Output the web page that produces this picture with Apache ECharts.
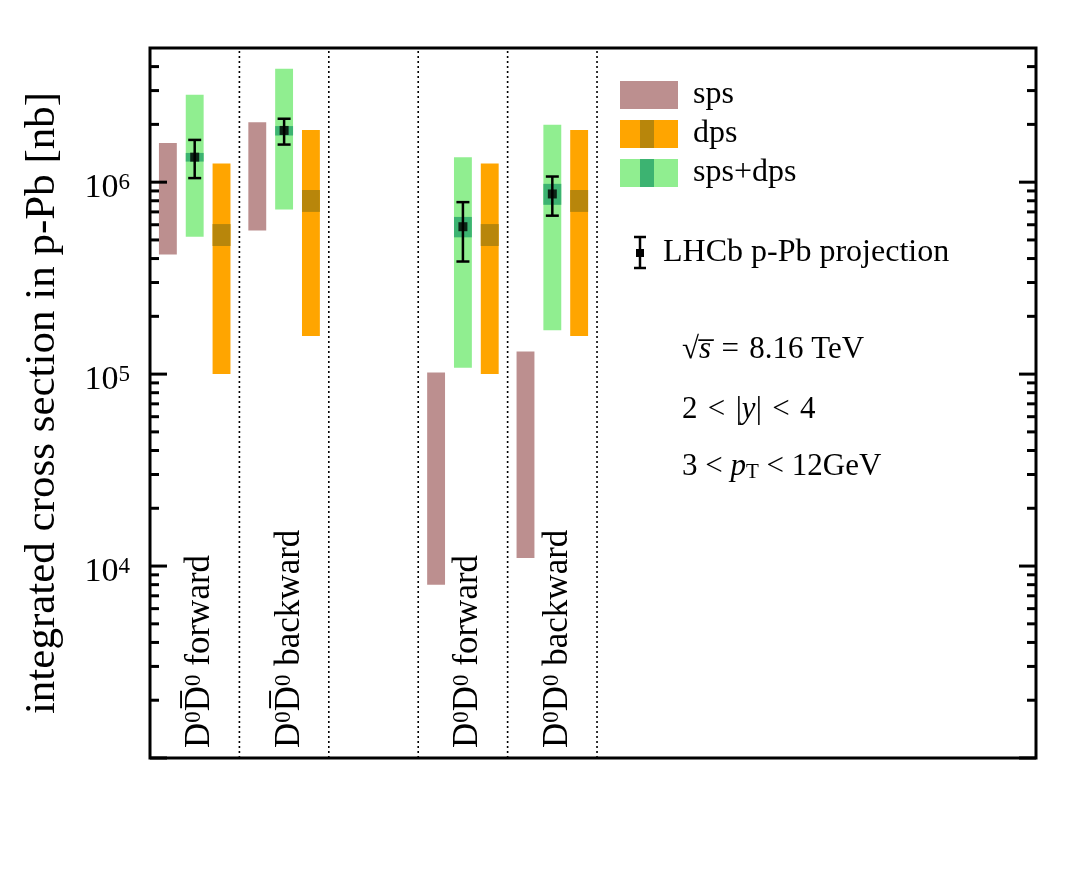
<!DOCTYPE html>
<html>
<head>
<meta charset="utf-8">
<title>integrated cross section in p-Pb</title>
<script src="https://cdn.jsdelivr.net/npm/echarts@6/dist/echarts.min.js"></script>
<style>
  html, body { margin: 0; padding: 0; background: #fff; }
  #main { width: 1068px; height: 891px; }
</style>
</head>
<body>
<div id="main"></div>
<script>
// --- data (values in nb) ---
const groupPos = [0, 1, 3, 4];
const groupLabels = [
  'D{s|0}D\u0305{s|0} forward',
  'D{s|0}D\u0305{s|0} backward',
  'D{s|0}D{s|0} forward',
  'D{s|0}D{s|0} backward'
];
const spsLow = [4.2e5, 5.6e5, 8.0e3, 1.1e4];
const spsHigh = [1.6e6, 2.05e6, 1.02e5, 1.31e5];
const dpsLow = [1.0e5, 1.58e5, 1.0e5, 1.58e5];
const dpsHigh = [1.25e6, 1.87e6, 1.25e6, 1.87e6];
const dpsBandLow = [4.65e5, 7.0e5, 4.65e5, 7.0e5];
const dpsBandHigh = [6.05e5, 9.1e5, 6.05e5, 9.1e5];
const totLow = [5.2e5, 7.2e5, 1.08e5, 1.69e5];
const totHigh = [2.85e6, 3.9e6, 1.35e6, 1.99e6];
const totBandLow = [1.28e6, 1.75e6, 5.16e5, 7.62e5];
const totBandHigh = [1.42e6, 1.96e6, 6.59e5, 9.8e5];
const lhcbVal = [1.35e6, 1.86e6, 5.86e5, 8.68e5];
const lhcbLow = [1.05e6, 1.57e6, 3.86e5, 6.69e5];
const lhcbHigh = [1.66e6, 2.14e6, 7.87e5, 1.07e6];
const dividerPos = [1, 2, 3, 4, 5];
const decades = [3, 4, 5, 6];
const minorMult = [2, 3, 4, 5, 6, 7, 8, 9];
const labelExps = [4, 5, 6];

const FONT = "'Liberation Serif', 'DejaVu Serif', serif";
const yMin = 1e3, yMax = 5e6, xMin = 0, xMax = 9.91;
const barW = 0.2;

const C_SPS = '#bc8f8f', C_DPS = '#ffa500', C_DPS_D = '#b8860b', C_TOT = '#90ee90', C_TOT_D = '#3cb371';

// tick marks on both sides of the frame
let ticks = [];
decades.forEach(d => {
  ticks.push([0, Math.pow(10, d), 1]);
  minorMult.forEach(m => {
    const v = m * Math.pow(10, d);
    if (v < yMax) ticks.push([0, v, 0]);
  });
});

const chart = echarts.init(document.getElementById('main'));

const rectBetween = (x, lo, hi, api, color) => {
  const p1 = api.coord([x - barW / 2, hi]);
  const p2 = api.coord([x + barW / 2, lo]);
  return {type: 'rect', shape: {x: p1[0], y: p1[1], width: p2[0] - p1[0], height: p2[1] - p1[1]}, style: {fill: color}};
};

const bandSeries = (offset, lows, highs, color, bLows, bHighs, bColor) => ({
  type: 'custom',
  data: groupPos.map((p, i) => [p + offset, lows[i], highs[i], bLows ? bLows[i] : 0, bHighs ? bHighs[i] : 0]),
  encode: {x: 0, y: [1, 2]},
  renderItem: (params, api) => {
    const x = api.value(0);
    const kids = [rectBetween(x, api.value(1), api.value(2), api, color)];
    if (bColor) kids.push(rectBetween(x, api.value(3), api.value(4), api, bColor));
    return {type: 'group', children: kids};
  },
  z: 3
});

const txt = (x, y, text, size, rich) => ({
  type: 'text', x: x, y: y,
  style: {text: text, fontFamily: FONT, fontSize: size, fill: '#000', verticalAlign: 'middle', rich: rich || {}}
});
const it = {fontStyle: 'italic', fontFamily: FONT, fontSize: 31, fill: '#000'};

const option = {
  animation: false,
  backgroundColor: '#fff',
  grid: {left: 150, right: 32, top: 48, bottom: 133, show: true, borderColor: '#000', borderWidth: 3, backgroundColor: 'transparent'},
  xAxis: {type: 'value', min: xMin, max: xMax, show: false},
  yAxis: {
    type: 'log', min: yMin, max: yMax, logBase: 10,
    axisLine: {show: false}, axisTick: {show: false}, splitLine: {show: false},
    axisLabel: {
      margin: 20, color: '#000', fontFamily: FONT, fontSize: 34, padding: [12, 0, 0, 0],
      formatter: v => {
        const l = Math.log10(v), e = Math.round(l);
        if (Math.abs(l - e) > 1e-6 || labelExps.indexOf(e) < 0) return '';
        return '10{sup|' + e + '}';
      },
      rich: {sup: {fontSize: 23, fontFamily: FONT, color: '#000', verticalAlign: 'top'}}
    },
    name: 'integrated cross section in p-Pb [nb]',
    nameLocation: 'middle', nameGap: 86,
    nameTextStyle: {fontSize: 43, fontFamily: FONT, color: '#000'}
  },
  series: [
    // dotted separators
    {
      type: 'custom', z: 2,
      data: dividerPos.map(x => [x, yMin]),
      renderItem: (params, api) => {
        const a = api.coord([api.value(0), yMin]), b = api.coord([api.value(0), yMax]);
        return {type: 'line', shape: {x1: a[0], y1: a[1], x2: b[0], y2: b[1]}, style: {stroke: '#000', lineWidth: 1.6, lineDash: [2, 3]}};
      }
    },
    // axis ticks
    {
      type: 'custom', z: 5,
      data: ticks,
      renderItem: (params, api) => {
        const v = api.value(1), len = api.value(2) ? 17 : 9;
        const l = api.coord([xMin, v]), r = api.coord([xMax, v]);
        return {type: 'group', children: [
          {type: 'line', shape: {x1: l[0], y1: l[1], x2: l[0] + len, y2: l[1]}, style: {stroke: '#000', lineWidth: 3}},
          {type: 'line', shape: {x1: r[0], y1: r[1], x2: r[0] - len, y2: r[1]}, style: {stroke: '#000', lineWidth: 3}}
        ]};
      }
    },
    bandSeries(0.2, spsLow, spsHigh, C_SPS),
    bandSeries(0.5, totLow, totHigh, C_TOT, totBandLow, totBandHigh, C_TOT_D),
    bandSeries(0.8, dpsLow, dpsHigh, C_DPS, dpsBandLow, dpsBandHigh, C_DPS_D),
    // LHCb projection error bars
    {
      type: 'custom', z: 6,
      data: groupPos.map((p, i) => [p + 0.5, lhcbLow[i], lhcbHigh[i]]),
      encode: {x: 0, y: [1, 2]},
      renderItem: (params, api) => {
        const lo = api.coord([api.value(0), api.value(1)]), hi = api.coord([api.value(0), api.value(2)]);
        const st = {stroke: '#000', lineWidth: 2.5};
        return {type: 'group', children: [
          {type: 'line', shape: {x1: lo[0], y1: lo[1], x2: hi[0], y2: hi[1]}, style: st},
          {type: 'line', shape: {x1: lo[0] - 6.5, y1: lo[1], x2: lo[0] + 6.5, y2: lo[1]}, style: st},
          {type: 'line', shape: {x1: hi[0] - 6.5, y1: hi[1], x2: hi[0] + 6.5, y2: hi[1]}, style: st}
        ]};
      }
    },
    {
      type: 'scatter', z: 7,
      data: groupPos.map((p, i) => [p + 0.5, lhcbVal[i]]),
      symbol: 'rect', symbolSize: 9, itemStyle: {color: '#000'}
    },
    // rotated category labels
    {
      type: 'custom', z: 8,
      data: groupPos.map((p, i) => [p + 0.56, yMin, i]),
      renderItem: (params, api) => {
        const a = api.coord([api.value(0), yMin]);
        return {
          type: 'text', x: a[0], y: a[1] - 10, rotation: Math.PI / 2,
          style: {
            text: groupLabels[api.value(2)], fill: '#000', fontFamily: FONT, fontSize: 35,
            align: 'left', verticalAlign: 'middle',
            rich: {s: {fontSize: 23, fontFamily: FONT, fill: '#000', verticalAlign: 'top'}}
          }
        };
      }
    }
  ],
  graphic: [
    // legend
    {type: 'rect', shape: {x: 620, y: 81, width: 58, height: 28}, style: {fill: C_SPS}},
    {type: 'rect', shape: {x: 620, y: 120, width: 58, height: 28}, style: {fill: C_DPS}},
    {type: 'rect', shape: {x: 640, y: 120, width: 14, height: 28}, style: {fill: C_DPS_D}},
    {type: 'rect', shape: {x: 620, y: 159, width: 58, height: 28}, style: {fill: C_TOT}},
    {type: 'rect', shape: {x: 640, y: 159, width: 14, height: 28}, style: {fill: C_TOT_D}},
    txt(693, 95, 'sps', 32),
    txt(693, 134, 'dps', 32),
    txt(693, 173, 'sps+dps', 32),
    {type: 'line', shape: {x1: 640, y1: 237, x2: 640, y2: 268}, style: {stroke: '#000', lineWidth: 2.5}},
    {type: 'line', shape: {x1: 634, y1: 237, x2: 646, y2: 237}, style: {stroke: '#000', lineWidth: 2.5}},
    {type: 'line', shape: {x1: 634, y1: 268, x2: 646, y2: 268}, style: {stroke: '#000', lineWidth: 2.5}},
    {type: 'rect', shape: {x: 636, y: 249, width: 8, height: 8}, style: {fill: '#000'}},
    txt(663, 253, 'LHCb p-Pb projection', 32),
    // kinematics
    txt(682, 350, '\u221a{i|s\u0305}\u2004=\u20048.16 TeV', 31, {i: it}),
    txt(682, 410, '2\u2004<\u2004|{i|y}|\u2004<\u20044', 31, {i: it}),
    txt(682, 467, '3 < {i|p}{sub|T} < 12GeV', 31, {
      i: it,
      sub: {fontFamily: FONT, fontSize: 21, fill: '#000', verticalAlign: 'bottom'}
    })
  ]
};

chart.setOption(option);
</script>
</body>
</html>
